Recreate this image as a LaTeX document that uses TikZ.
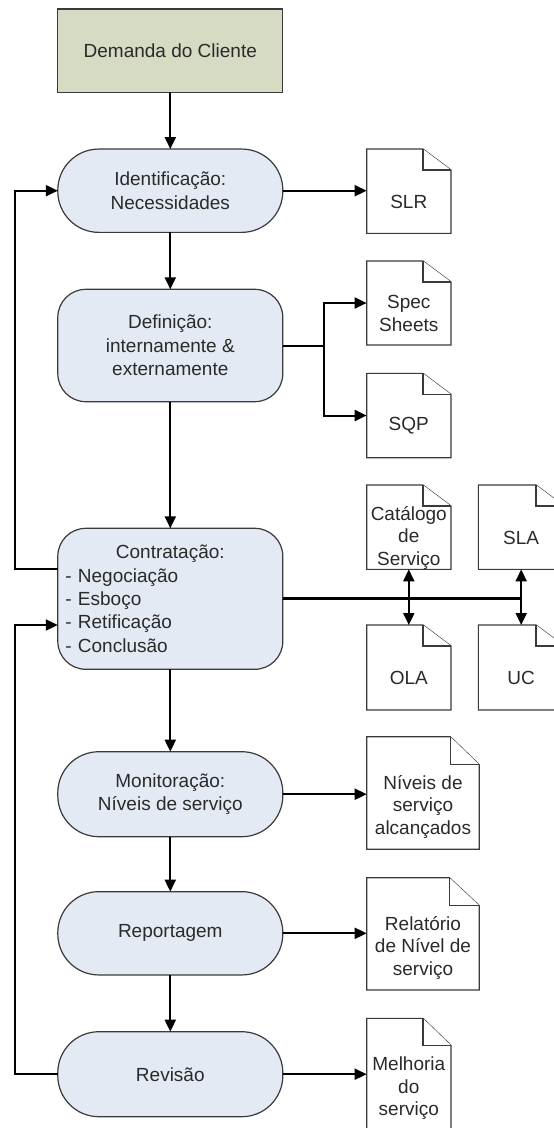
\documentclass[tikz,border=0pt]{standalone}
\usepackage{fontspec}
\setmainfont{Liberation Sans}
\usetikzlibrary{arrows.meta,calc}

\definecolor{demfill}{HTML}{D6DBC4}
\definecolor{stagefill}{HTML}{E4EAF4}
\definecolor{edge}{HTML}{3A3A3A}
\definecolor{ink}{HTML}{2A2A2A}

% Document sheet with a folded top-right corner.
% #1 name, #2 centre, #3 width, #4 height, #5 fold width, #6 fold height, #7 text
\newcommand\docsheet[7]{%
  \node[docframe, minimum width=#3, minimum height=#4] (#1) at (#2) {};
  \filldraw[docline] (#1.north west) -- ($(#1.north east)+(-#5,0)$)
    -- ($(#1.north east)+(0,#6)$) -- (#1.south east) -- (#1.south west) -- cycle;
  \draw[docline] ($(#1.north east)+(-#5,0)$) -- ++(0,#6) -- ($(#1.north east)+(0,#6)$);
  \node[doctext] (#1-text) at ($(#1.center)+(0,#6/2)$) {#7};
}

\begin{document}
\begin{tikzpicture}[x=1pt,y=-1pt,
  source/.style={rectangle, draw=edge, fill=demfill, line width=1.2pt,
    minimum width=225, minimum height=83.3, inner sep=0, outer sep=0,
    text=ink, font=\fontsize{19}{23.3}\selectfont},
  stage/.style={rectangle, draw=edge, fill=stagefill, line width=1.2pt,
    minimum width=225, inner sep=0, outer sep=0, align=center,
    text=ink, font=\fontsize{19}{23.3}\selectfont},
  docframe/.style={rectangle, draw=none, inner sep=0, outer sep=0},
  docline/.style={draw=edge, fill=white, line width=1.2pt, line join=miter},
  doctext/.style={inner sep=0, align=center, text=ink,
    font=\fontsize{19}{22.5}\selectfont},
  link/.style={draw=black, line width=2pt},
  conn/.style={link, -{Triangle[length=12pt,width=11pt]}}
]
\useasboundingbox (0,0) rectangle (554,1128);

% process stages
\node[source] (dem) at (170.3,50.7) {Demanda do Cliente};
\node[stage, minimum height=83.3, rounded corners=41] (ident) at (170.3,190.7)
  {Identificação:\\Necessidades};
\node[stage, minimum height=112.4, rounded corners=28] (def) at (170.3,345.5)
  {Definição:\\internamente \&\\externamente};
\node[stage, minimum height=141, rounded corners=28, text width=210, align=left]
  (contr) at (170.3,598.8)
  {\makebox[210pt]{Contratação:}\\- Negociação\\- Esboço\\- Retificação\\- Conclusão};
\node[stage, minimum height=85, rounded corners=41] (mon) at (170.3,794.2)
  {Monitoração:\\Níveis de serviço};
\node[stage, minimum height=83.3, rounded corners=41] (rep) at (170.3,933.3)
  {Reportagem};
\node[stage, minimum height=85, rounded corners=41] (rev) at (170.3,1074.2)
  {Revisão};

% documents produced
\docsheet{slr}{408.8,191.2}{84.3}{84.3}{28}{21}{SLR}
\docsheet{spec}{408.8,303}{84.3}{84}{28}{21}{Spec\\Sheets}
\docsheet{sqp}{408.8,415.5}{84.3}{84.3}{28}{21}{SQP}
\docsheet{cat}{408.8,527.2}{84.3}{84.3}{28}{21}{Catálogo\\de\\Serviço}
\docsheet{sla}{521.2,527.2}{85.7}{84.3}{28}{21}{SLA}
\docsheet{ola}{408.8,667.5}{84.3}{85}{28}{21}{OLA}
\docsheet{uc}{521.2,667.5}{85.7}{85}{28}{21}{UC}
\docsheet{niv}{423,793}{112.6}{112.6}{29}{28}{Níveis de\\serviço\\alcançados}
\docsheet{rel}{423,933.8}{112.6}{112.3}{30}{28}{Relatório\\de Nível de\\serviço}
\docsheet{mel}{408.8,1074.7}{84.3}{112.7}{28}{27}{Melhoria\\do\\serviço}

% main flow
\draw[conn] (dem.south) -- (ident.north);
\draw[conn] (ident.south) -- (def.north);
\draw[conn] (def.south) -- (contr.north);
\draw[conn] (contr.south) -- (mon.north);
\draw[conn] (mon.south) -- (rep.north);
\draw[conn] (rep.south) -- (rev.north);

% outputs
\draw[conn] (ident.east) -- (ident.east -| slr.west);
\coordinate (fork) at (324,345.5);
\draw[link] (def.east) -- (fork);
\draw[conn] (fork) |- (spec.west);
\draw[conn] (fork) |- (sqp.west);
\draw[conn] (mon.east) -- (mon.east -| niv.west);
\draw[conn] (rep.east) -- (rep.east -| rel.west);
\draw[conn] (rev.east) -- (rev.east -| mel.west);

% agreements bus
\coordinate (jcat) at (cat.south |- contr.east);
\coordinate (jsla) at (sla.south |- contr.east);
\draw[link, line width=2.8pt] (contr.east) -- (jsla);
\draw[conn] (jcat) -- (cat.south);
\draw[conn] (jcat) -- (ola.north);
\draw[conn] (jsla) -- (sla.south);
\draw[conn] (jsla) -- (uc.north);

% feedback loops
\coordinate (fbtop) at (15,569.3);
\coordinate (fbbot) at (15,625);
\draw[conn] (fbtop -| contr.west) -- (fbtop) |- (ident.west);
\draw[conn] (rev.west) -| (fbbot) -- (fbbot -| contr.west);
\end{tikzpicture}
\end{document}
